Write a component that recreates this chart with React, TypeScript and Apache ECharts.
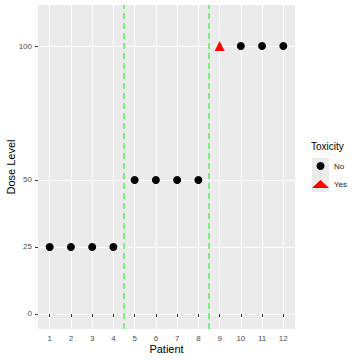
import React, { useEffect, useRef } from "react";
import * as echarts from "echarts";

const patients = [1, 2, 3, 4, 5, 6, 7, 8, 9, 10, 11, 12];
const doseLevels = [25, 25, 25, 25, 50, 50, 50, 50, 100, 100, 100, 100];
const toxicity = ["No", "No", "No", "No", "No", "No", "No", "No", "Yes", "No", "No", "No"];
const xTicks = [1, 2, 3, 4, 5, 6, 7, 8, 9, 10, 11, 12];
const yTicks = [0, 25, 50, 100];
const cohortBreaks = [4.5, 8.5];

const FONT = "Liberation Sans";

export default function App() {
  const ref = useRef<HTMLDivElement>(null);
  useEffect(() => {
    if (!ref.current) return;
    const chart = echarts.init(ref.current, undefined, { renderer: "svg" });
    const rows = patients.map((p, i) => ({ x: p, y: doseLevels[i], t: toxicity[i] }));
    const noData = rows.filter((r) => r.t === "No").map((r) => [r.x, r.y]);
    const yesData = rows.filter((r) => r.t === "Yes").map((r) => [r.x, r.y]);
    const tickLabel = { color: "#4d4d4d", fontSize: 8, fontFamily: FONT };
    chart.setOption({
      animation: false,
      grid: {
        left: 38,
        top: 5,
        right: 65,
        bottom: 31,
        show: true,
        backgroundColor: "#ebebeb",
        borderWidth: 0,
        containLabel: false,
        outerBoundsMode: "none",
      },
      xAxis: {
        type: "value",
        min: 0.45,
        max: 12.55,
        name: "Patient",
        nameLocation: "middle",
        nameGap: 14,
        nameMoveOverlap: false,
        nameTextStyle: { color: "#000", fontSize: 11, fontFamily: FONT },
        axisLine: { show: false },
        axisTick: { show: true, length: 3, lineStyle: { color: "#333333", width: 1 }, customValues: xTicks },
        axisLabel: { ...tickLabel, margin: 5, customValues: xTicks },
        splitLine: { show: true, lineStyle: { color: "#ffffff", width: 1.1 } },
      },
      yAxis: {
        type: "value",
        min: -5.6,
        max: 115.3,
        name: "Dose Level",
        nameLocation: "middle",
        nameGap: 22,
        nameMoveOverlap: false,
        nameTextStyle: { color: "#000", fontSize: 11, fontFamily: FONT },
        axisLine: { show: false },
        axisTick: { show: true, length: 3, lineStyle: { color: "#333333", width: 1 }, customValues: yTicks },
        axisLabel: { ...tickLabel, margin: 6, customValues: yTicks },
        splitLine: { show: true, lineStyle: { color: "#ffffff", width: 1.1 } },
      },
      legend: {
        orient: "vertical",
        left: 312,
        top: 162,
        itemWidth: 17,
        itemHeight: 8,
        itemGap: 10,
        padding: 0,
        textStyle: { color: "#1a1a1a", fontSize: 8, fontFamily: FONT },
        data: [
          { name: "No", icon: "circle", itemStyle: { color: "#000" }, textStyle: { color: "#1a1a1a" } },
          { name: "Yes", icon: "triangle", itemStyle: { color: "#ff0000" }, textStyle: { color: "#1a1a1a" } },
        ],
      },
      graphic: [
        { type: "rect", left: 312, top: 158, shape: { width: 17, height: 34 }, style: { fill: "#ebebeb" }, z: -1 },
        {
          type: "text",
          left: 311,
          top: 141,
          style: { text: "Toxicity", fill: "#000", fontSize: 10, fontFamily: FONT },
        },
      ],
      series: [
        {
          name: "No",
          type: "scatter",
          data: noData,
          symbol: "circle",
          symbolSize: 8,
          itemStyle: { color: "#000000", opacity: 1 },
          markLine: {
            silent: true,
            symbol: "none",
            label: { show: false },
            lineStyle: { color: "#5ef05e", type: [6, 4], width: 1.6 },
            data: cohortBreaks.map((x) => ({ xAxis: x })),
          },
        },
        {
          name: "Yes",
          type: "scatter",
          data: yesData,
          symbol: "triangle",
          symbolSize: 10,
          itemStyle: { color: "#ff0000", opacity: 1 },
        },
      ],
    });
    return () => chart.dispose();
  }, []);
  return <div ref={ref} style={{ width: 360, height: 360, position: "absolute", left: 0, top: 0 }} />;
}
